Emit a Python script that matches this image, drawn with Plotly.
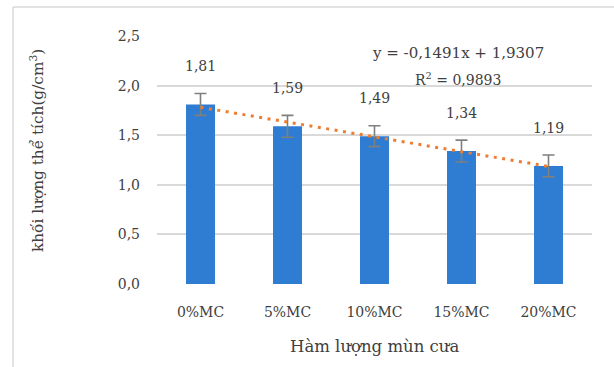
import plotly.graph_objects as go

# Bulk density vs. sawdust content
categories = ["0%MC", "5%MC", "10%MC", "15%MC", "20%MC"]
density = [1.81, 1.59, 1.49, 1.34, 1.19]
density_err = [0.11, 0.11, 0.105, 0.11, 0.11]

# Linear trendline (x = 1..5 over the categories)
slope = -0.1491
intercept = 1.9307
r_squared = 0.9893

y_ticks = [0.0, 0.5, 1.0, 1.5, 2.0, 2.5]

FONT = "DejaVu Serif"
TEXT = "#404040"
GRID = "#d9d9d9"


def vn(v, nd):
    return f"{v:.{nd}f}".replace(".", ",")


trend_x = [categories[0], categories[-1]]
trend_y = [slope * 1 + intercept, slope * len(categories) + intercept]

fig = go.Figure()
fig.add_trace(go.Bar(
    x=categories, y=density,
    marker=dict(color="#2E7DD2", line=dict(width=0)),
    error_y=dict(type="data", array=density_err, color="#7F7F7F",
                 thickness=1.6, width=6),
    showlegend=False,
))
fig.add_trace(go.Scatter(
    x=trend_x, y=trend_y, mode="lines",
    line=dict(color="#ED7D31", width=3, dash="3px,5.5px"),
    showlegend=False,
))

annotations = []
for c, v in zip(categories, density):
    annotations.append(dict(x=c, y=v, text=vn(v, 2), showarrow=False,
                            yshift=38, xanchor="center", yanchor="middle",
                            font=dict(size=14, color=TEXT)))

eq = f"y = {'-' if slope < 0 else ''}{vn(abs(slope), 4)}x + {vn(intercept, 4)}"
common = dict(xref="paper", yref="paper", showarrow=False,
              xanchor="center", yanchor="middle")
annotations.append(dict(common, x=0.692, y=0.933, text=eq,
                        font=dict(size=15, color=TEXT)))
annotations.append(dict(common, x=0.692, y=0.827,
                        text=f"R<sup>2</sup> = {vn(r_squared, 4)}",
                        font=dict(size=14, color=TEXT)))
annotations.append(dict(common, x=-0.276, y=0.54,
                        text="khối lượng thể tích(g/cm<sup>3</sup>)", textangle=-90,
                        font=dict(size=15.3, color=TEXT)))
annotations.append(dict(common, x=0.5, y=-0.254,
                        text="Hàm lượng mùn cưa",
                        font=dict(size=16.5, color=TEXT)))

# Chart-area frame (top and left edges)
frame = dict(type="line", xref="paper", yref="paper",
             line=dict(color=GRID, width=1.5))
shapes = [
    dict(frame, x0=-0.331, x1=1.1, y0=1.117, y1=1.117),
    dict(frame, x0=-0.331, x1=-0.331, y0=1.117, y1=-0.4),
]

fig.update_layout(
    width=614, height=367,
    margin=dict(l=157, r=22, t=36, b=83, autoexpand=False),
    paper_bgcolor="white", plot_bgcolor="white",
    font=dict(family=FONT, size=14, color=TEXT),
    separators=",.",
    bargap=0.667,
    annotations=annotations,
    shapes=shapes,
    xaxis=dict(type="category", showgrid=False, showline=False, ticks="",
               ticklabelstandoff=18, tickfont=dict(size=14, color=TEXT)),
    yaxis=dict(range=[0, 2.5], tickvals=y_ticks, tickformat=".1f",
               showgrid=True, gridcolor=GRID, gridwidth=1.5,
               zeroline=False, showline=False, ticks="",
               ticklabelstandoff=16, tickfont=dict(size=14, color=TEXT)),
)

fig.write_html("out.html")
